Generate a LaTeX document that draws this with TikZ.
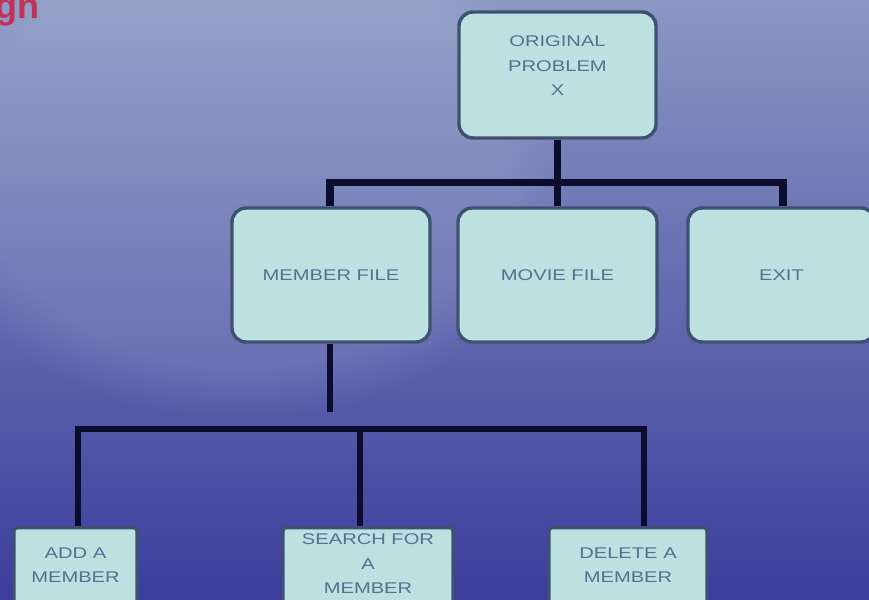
\documentclass[tikz,border=0pt]{standalone}
\usepackage{fontspec}
\setmainfont{Liberation Sans}
\newfontfamily\boxfont[FakeStretch=1.3]{Liberation Sans}
\usetikzlibrary{fadings}
\definecolor{bgtop}{HTML}{8A98C2}
\definecolor{bgmid}{HTML}{6570B6}
\definecolor{bgbot}{HTML}{3C3D9C}
\definecolor{boxc}{HTML}{BDE0E1}
\definecolor{bordc}{HTML}{3C5270}
\definecolor{txtc}{HTML}{587090}
\definecolor{busc}{HTML}{0B0C2E}
\definecolor{gnred}{HTML}{C23258}
\begin{document}
\begin{tikzpicture}[x=1pt,y=-1pt,
  boxst/.style={draw=bordc, line width=3.4pt, fill=boxc, rounded corners=14pt, inner sep=0pt,
    text=txtc, align=center, font=\boxfont\fontsize{15.5}{25}\selectfont},
  sqbox/.style={boxst, rounded corners=3pt},
  lbl/.style={text=txtc, align=center, inner sep=0pt, font=\boxfont\fontsize{15.5}{24.5}\selectfont},
  bus/.style={draw=busc, line width=7.5pt, line join=miter},
  bustwo/.style={draw=busc, line width=6pt, line join=miter}]
\useasboundingbox (0,0) rectangle (869,599);
\clip (0,0) rectangle (869,599);
% background
\shade[top color=bgtop, middle color=bgmid, bottom color=bgbot] (0,0) rectangle (869,599);
\fill[white, opacity=0.1, path fading=circle with fuzzy edge 20 percent] (240,160) ellipse [x radius=330, y radius=260];
% red fragment
\node[anchor=base west, text=gnred, inner sep=0pt, font=\bfseries\fontsize{36}{36}\selectfont] (gn) at (-5,19) {gn};
% top box
\node[boxst, minimum width=197pt, minimum height=126pt] (top) at (557.5,75) {};
\node[lbl] (toptxt) at (557.5,66) {ORIGINAL\\PROBLEM\\X};
% middle boxes
\node[boxst, minimum width=198pt, minimum height=134pt] (member) at (331,275) {MEMBER FILE};
\node[boxst, minimum width=199pt, minimum height=134pt] (movie) at (557.5,275) {MOVIE FILE};
\node[boxst, minimum width=187pt, minimum height=134pt] (exit) at (781.5,275) {EXIT};
% bottom boxes
\node[sqbox, minimum width=123pt, minimum height=130pt, anchor=north] (addb) at (75.5,526) {};
\node[lbl] (addt) at (75.5,565) {ADD A\\MEMBER};
\node[sqbox, minimum width=170pt, minimum height=130pt, anchor=north] (srch) at (368,526) {};
\node[lbl] (srcht) at (368,564) {SEARCH FOR\\A\\MEMBER};
\node[sqbox, minimum width=158pt, minimum height=130pt, anchor=north] (delb) at (628,526) {};
\node[lbl] (delt) at (628,565) {DELETE A\\MEMBER};
% connectors, upper level
\coordinate (j1) at (557.5,184);
\draw[bus] (top.south) -- (j1);
\draw[bus] ([xshift=-1pt]member.north) -- ++(0,-24) -| ([xshift=1.5pt]exit.north);
\draw[bus] (j1) -- (movie.north);
% connectors, lower level
\coordinate (m1) at (330,412);
\draw[bustwo] ([xshift=-1pt]member.south) -- (m1);
\draw[bustwo] ([xshift=2.5pt]addb.north) -- ++(0,-97) -| ([xshift=16pt]delb.north);
\draw[bustwo] ([xshift=-8pt]srch.north) -- ++(0,-97);
\end{tikzpicture}
\end{document}
